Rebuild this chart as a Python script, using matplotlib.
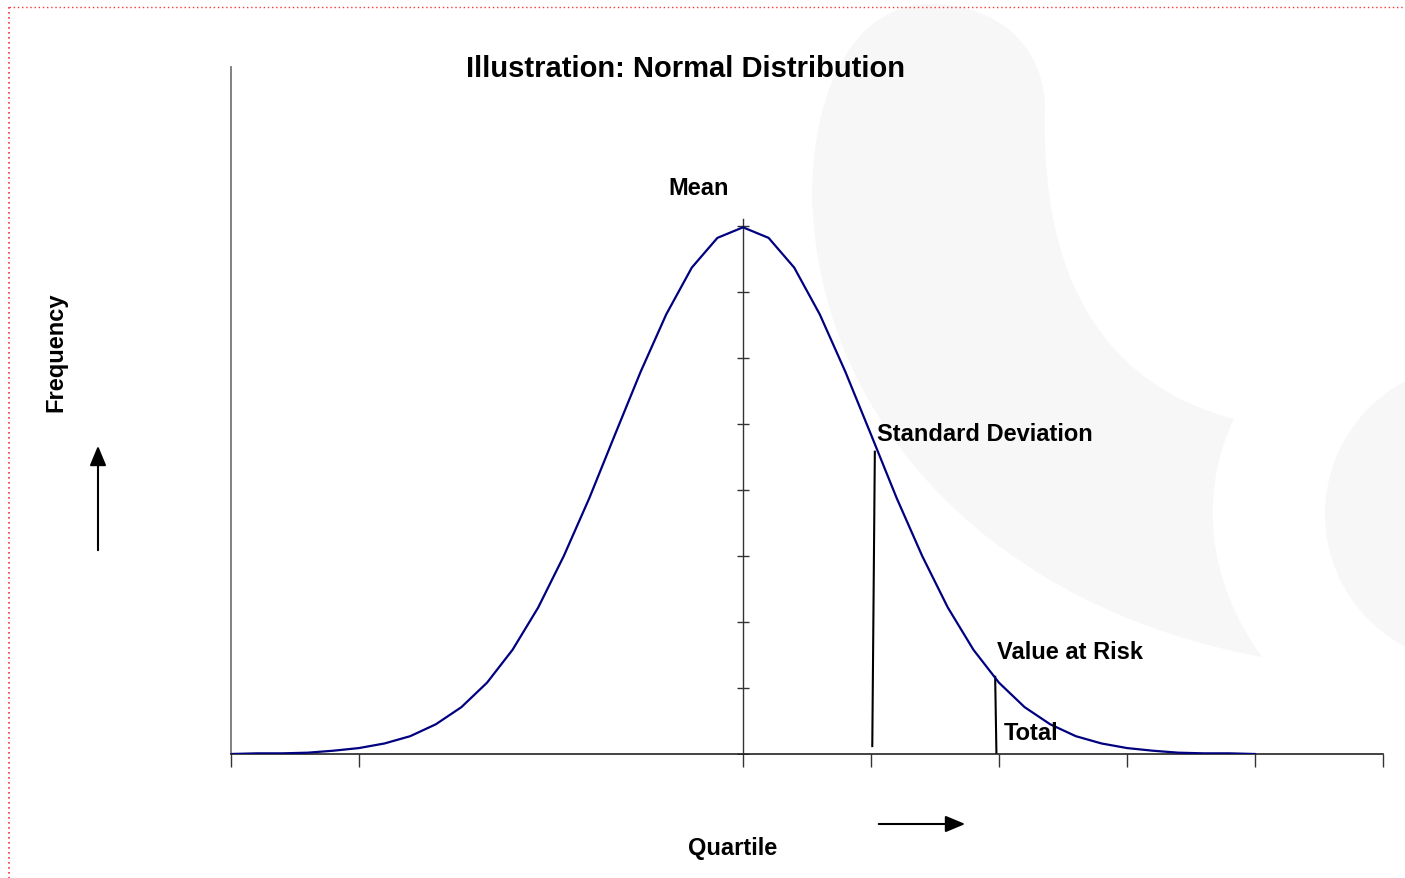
import numpy as np
import matplotlib
matplotlib.use('Agg')
import matplotlib.pyplot as plt
from matplotlib.path import Path
from matplotlib.patches import PathPatch, Circle

plt.rcParams['font.family'] = ['Liberation Sans', 'DejaVu Sans']

# quartile position (in standard deviations) and frequency
quartile = [-4.0, -3.8, -3.6, -3.4, -3.2, -3.0, -2.8, -2.6, -2.4, -2.2, -2.0,
            -1.8, -1.6, -1.4, -1.2, -1.0, -0.8, -0.6, -0.4, -0.2, 0.0,
            0.2, 0.4, 0.6, 0.8, 1.0, 1.2, 1.4, 1.6, 1.8, 2.0,
            2.2, 2.4, 2.6, 2.8, 3.0, 3.2, 3.4, 3.6, 3.8, 4.0]
frequency = [0.00, 0.01, 0.01, 0.02, 0.05, 0.09, 0.16, 0.27, 0.45, 0.71, 1.08,
             1.58, 2.22, 3.00, 3.88, 4.84, 5.79, 6.66, 7.37, 7.82, 7.98,
             7.82, 7.37, 6.66, 5.79, 4.84, 3.88, 3.00, 2.22, 1.58, 1.08,
             0.71, 0.45, 0.27, 0.16, 0.09, 0.05, 0.02, 0.01, 0.01, 0.00]
x_ticks = [-4, -3, 0, 1, 2, 3, 4, 5]
mean_ticks = [0, 1, 2, 3, 4, 5, 6, 7, 8]
sd_line = ([1.03, 1.01], [4.58, 0.12])
var_line = ([1.97, 1.98], [1.17, 0.0])

fig = plt.figure(figsize=(14.05, 8.79), dpi=100)

# background layer in pixel coordinates (watermark + dotted border)
bg = fig.add_axes([0, 0, 1, 1], zorder=0)
bg.set_xlim(0, 1405)
bg.set_ylim(879, 0)
bg.axis('off')
verts = [(812, 200),
         (812, 80), (860, 5), (930, 5),
         (1000, 5), (1045, 50), (1045, 110),
         (1040, 300), (1120, 390), (1234, 420),
         (1200, 490), (1205, 580), (1262, 658),
         (1000, 610), (820, 430), (812, 200)]
codes = [Path.MOVETO] + [Path.CURVE4] * 15
bg.add_patch(PathPatch(Path(verts, codes), facecolor='#f7f7f7', edgecolor='none'))
bg.add_patch(Circle((1475, 515), 150, facecolor='#f7f7f7', edgecolor='none'))
bg.plot([9, 1405], [8, 8], color='#ff3333', lw=1, ls=(0, (1, 2)))
bg.plot([9, 9], [8, 879], color='#ff3333', lw=1.2, ls=(0, (1, 2)))

bg.text(685, 69, 'Illustration: Normal Distribution', fontsize=21,
        fontweight='bold', ha='center', va='center')
bg.text(56, 352, 'Frequency', fontsize=17, fontweight='bold', rotation=90,
        ha='center', va='center')
bg.text(733, 849, 'Quartile', fontsize=17, fontweight='bold',
        ha='center', va='center')
bg.annotate('', xy=(98, 444), xytext=(98, 554),
            arrowprops=dict(arrowstyle='-|>,head_length=1.2,head_width=0.5',
                            color='black', lw=1.5))
bg.annotate('', xy=(968, 825), xytext=(876, 825),
            arrowprops=dict(arrowstyle='-|>,head_length=1.2,head_width=0.5',
                            color='black', lw=1.5))

# main chart
ax = fig.add_axes([231 / 1405, 124 / 879, 1152 / 1405, 687 / 879], zorder=1)
ax.set_facecolor('none')
ax.set_xlim(-4, 5)
ax.set_ylim(0, 687 / 66)
for s in ['top', 'right']:
    ax.spines[s].set_visible(False)
ax.spines['left'].set_color('#777777')
ax.spines['left'].set_linewidth(1.3)
ax.spines['bottom'].set_color('#222222')
ax.spines['bottom'].set_linewidth(1.2)
ax.set_xticks(x_ticks)
ax.set_xticklabels([])
ax.tick_params(axis='x', length=9, width=1, color='#333333')
ax.set_yticks([])

# vertical axis through the mean with its own cross ticks
ax.plot([0, 0], [0, 8.1], color='#333333', lw=1)
ax.plot([0] * len(mean_ticks), mean_ticks, ls='none', marker='_',
        markersize=9, color='#333333', markeredgewidth=1)

ax.plot(quartile, frequency, color='#000080', lw=1.6, zorder=3)
ax.plot(*sd_line, color='black', lw=1.5)
ax.plot(*var_line, color='black', lw=1.5)

ax.text(-0.35, 8.58, 'Mean', fontsize=17, fontweight='bold', ha='center', va='center')
ax.text(1.047, 4.86, 'Standard Deviation', fontsize=17, fontweight='bold', va='center')
ax.text(1.984, 1.55, 'Value at Risk', fontsize=17, fontweight='bold', va='center')
ax.text(2.039, 0.32, 'Total', fontsize=17, fontweight='bold', va='center', zorder=4)

plt.savefig('out.png', dpi=100)
